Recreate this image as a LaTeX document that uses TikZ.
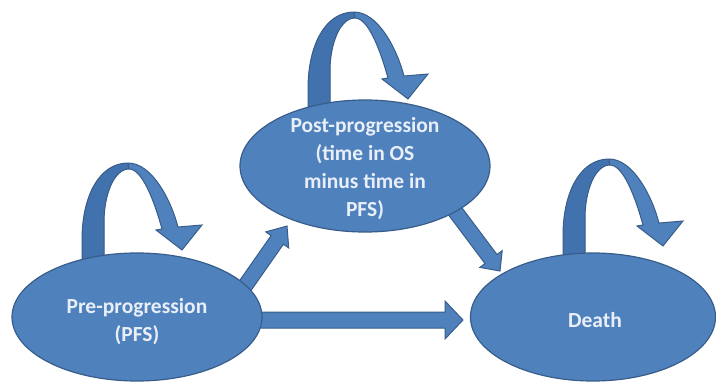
\documentclass[tikz,border=0pt]{standalone}
\usepackage{fontspec}
\setmainfont{Carlito}
\usetikzlibrary{shapes.geometric,calc}
\definecolor{fillblue}{HTML}{4F81BD}
\definecolor{edgeblue}{HTML}{385D8A}
\definecolor{darkblue}{HTML}{4272AD}
\definecolor{txt}{HTML}{E8EFF8}
\tikzset{
  state/.style={ellipse, draw=edgeblue, fill=fillblue, line width=1.2pt, inner sep=0pt},
  lbl/.style={text=txt, font=\bfseries\fontsize{21.5}{28}\selectfont, align=center, inner sep=0pt},
  blk/.style={draw=edgeblue, fill=fillblue, line width=1pt, line join=miter},
  loopedge/.style={draw=edgeblue, line width=1pt, line join=miter},
}
% start, tip, half shaft width, half head width, head length
\newcommand\blockarrow[5]{%
  \coordinate (ba-b) at ($(#2)!#5!(#1)$);
  \draw[blk] ($(#1)!#3!90:(#2)$) -- ($(ba-b)!#3!90:(#2)$) -- ($(ba-b)!#4!90:(#2)$)
    -- (#2) -- ($(ba-b)!#4!-90:(#2)$) -- ($(ba-b)!#3!-90:(#2)$) -- ($(#1)!#3!-90:(#2)$) -- cycle;
}
\newcommand\selfloop[2]{%
  \begin{scope}[shift={(#1,#2)}]
    \fill[fillblue] (82,262) -- (82,240) .. controls (82,195) and (100,163) .. (128,163)
      .. controls (152,163) and (171,200) .. (178,227) -- (202,225) -- (182,250) -- (156,230) -- (162,229)
      .. controls (154,200) and (142,169) .. (129,169) .. controls (114,169) and (104,195) .. (104,222)
      -- (104,262) -- cycle;
    \fill[darkblue] (82,262) -- (82,240) .. controls (82,195) and (100,163) .. (128,163)
      -- (129,169) .. controls (114,169) and (104,195) .. (104,222) -- (104,262) -- cycle;
    \draw[loopedge] (82,262) -- (82,240) .. controls (82,195) and (100,163) .. (128,163)
      .. controls (152,163) and (171,200) .. (178,227) -- (202,225) -- (182,250) -- (156,230) -- (162,229)
      .. controls (154,200) and (142,169) .. (129,169) .. controls (114,169) and (104,195) .. (104,222)
      -- (104,262) -- cycle;
    \draw[loopedge] (128,163) -- (129,169);
  \end{scope}}
\begin{document}
\begin{tikzpicture}[x=1pt,y=-1pt]
\fill[white] (0,0) rectangle (716,381);
\useasboundingbox (0,0) rectangle (716,381);

% self loops
\selfloop{0}{0}
\selfloop{226}{-151}
\selfloop{481}{-4}

% connector end points
\coordinate (a1s) at (238,296);
\coordinate (a1t) at (287,226);
\coordinate (a2s) at (250,320);
\coordinate (a2t) at (463,320);
\coordinate (a3s) at (452,207);
\coordinate (a3t) at (500,271);

\blockarrow{a1s}{a1t}{7.5pt}{14pt}{17pt}
\blockarrow{a2s}{a2t}{8pt}{19pt}{18pt}
\blockarrow{a3s}{a3t}{7.5pt}{14pt}{15pt}

% states
\node[state, minimum width=250pt, minimum height=128pt] (pre) at (137,317) {};
\node[state, minimum width=250pt, minimum height=132pt] (post) at (365,166) {};
\node[state, minimum width=245pt, minimum height=128pt] (death) at (593,317) {};

\node[lbl] (pretext) at (137,322) {Pre-progression\\(PFS)};
\node[lbl] (posttext) at (365,169) {Post-progression\\(time in OS\\minus time in\\PFS)};
\node[lbl] (deathtext) at (595,320) {Death};
\end{tikzpicture}
\end{document}
